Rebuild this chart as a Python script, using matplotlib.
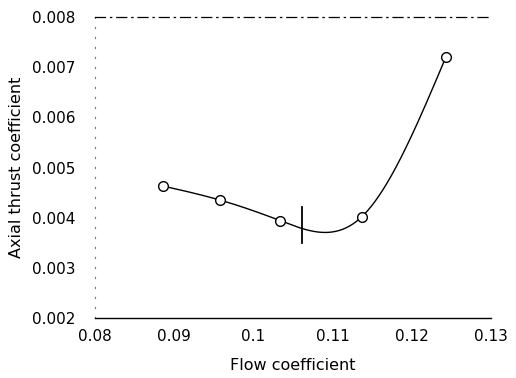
import matplotlib.pyplot as plt
import numpy as np

# data
flow = [0.0886, 0.0958, 0.1034, 0.1137, 0.1243]
thrust = [0.00463, 0.00435, 0.00394, 0.00402, 0.00720]
design_flow = 0.1061
design_span = [0.00350, 0.00422]

xticks = [0.08, 0.09, 0.1, 0.11, 0.12, 0.13]
xticklabels = ["0.08", "0.09", "0.1", "0.11", "0.12", "0.13"]
yticks = [0.002, 0.003, 0.004, 0.005, 0.006, 0.007, 0.008]


def natural_spline(x, y, xs):
    x = np.asarray(x)
    y = np.asarray(y)
    n = len(x)
    h = np.diff(x)
    A = np.zeros((n, n))
    b = np.zeros(n)
    A[0, 0] = 1
    A[-1, -1] = 1
    for i in range(1, n - 1):
        A[i, i - 1] = h[i - 1]
        A[i, i] = 2 * (h[i - 1] + h[i])
        A[i, i + 1] = h[i]
        b[i] = 3 * ((y[i + 1] - y[i]) / h[i] - (y[i] - y[i - 1]) / h[i - 1])
    c = np.linalg.solve(A, b)
    out = []
    for v in xs:
        i = min(max(np.searchsorted(x, v) - 1, 0), n - 2)
        d = v - x[i]
        bb = (y[i + 1] - y[i]) / h[i] - h[i] * (2 * c[i] + c[i + 1]) / 3
        dd = (c[i + 1] - c[i]) / (3 * h[i])
        out.append(y[i] + bb * d + c[i] * d ** 2 + dd * d ** 3)
    return np.array(out)


plt.rcParams['font.family'] = 'DejaVu Sans'
fig = plt.figure(figsize=(5.16, 3.78), dpi=100)
ax = fig.add_axes([95 / 516, 1 - 318 / 378, 396 / 516, 301 / 378])

xs = np.linspace(flow[0], flow[-1], 300)
ax.plot(xs, natural_spline(flow, thrust, xs), color='black', lw=1.0)
ax.plot(flow, thrust, 'o', ms=7, mfc='white', mec='black', mew=1.0)
ax.plot([design_flow, design_flow], design_span, color='black', lw=1.3)

ax.set_xlim(0.08, 0.13)
ax.set_ylim(0.002, 0.008)
ax.set_xticks(xticks)
ax.set_xticklabels(xticklabels)
ax.set_yticks(yticks)
ax.tick_params(axis='both', labelsize=11, length=0)
ax.tick_params(axis='x', pad=8)
ax.tick_params(axis='y', pad=14)

ax.spines['right'].set_visible(False)
ax.spines['top'].set_linestyle((0, (8, 4, 1, 4)))
ax.spines['top'].set_linewidth(0.9)
ax.spines['left'].set_linestyle((0, (1, 8)))
ax.spines['left'].set_color('#777777')
ax.spines['left'].set_linewidth(0.8)
ax.spines['bottom'].set_linewidth(1.0)

ax.set_xlabel("Flow coefficient", fontsize=11.5, labelpad=10)
ax.set_ylabel("Axial thrust coefficient", fontsize=11.5, labelpad=6)

fig.savefig("out.png", dpi=100)
